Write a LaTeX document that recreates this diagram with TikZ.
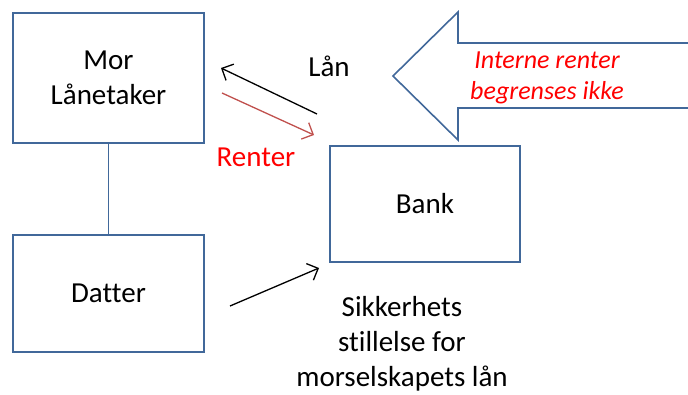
\documentclass[tikz,border=0pt]{standalone}
\usepackage{fontspec}
\setmainfont{Carlito}[Ligatures=NoCommon]
\usetikzlibrary{arrows.meta,positioning,calc}
\definecolor{boxblue}{HTML}{41689A}
\definecolor{renterred}{HTML}{C0504D}
\definecolor{textred}{HTML}{FF0000}

\begin{document}
\begin{tikzpicture}[x=1pt,y=-1pt,>={Straight Barb[length=9pt,width=18pt]},
	txt/.style={font=\fontsize{29}{35}\selectfont, align=center, inner sep=0pt},
	box/.style={draw=boxblue, line width=1.6pt, txt}]
				\useasboundingbox (0,0) rectangle (688,394);
				\node[box, minimum width=191pt, minimum height=130pt] (mor) at (108.5,78) {Mor\\Lånetaker};
				\node[box, minimum width=191pt, minimum height=117pt] (datter) at (108.5,293.5) {Datter};
				\node[box, minimum width=190pt, minimum height=116pt] (bank) at (425,204) {Bank};
				\draw[boxblue, line width=1.6pt] (mor.south) -- (datter.north);
				% big arrow from the right
				\draw[boxblue, line width=1.6pt] (692,43) -- (458,43) -- (458,12) -- (393,76) -- (458,140) -- (458,108) -- (692,108);
				\node[txt, text=textred, font=\fontsize{26}{31}\selectfont\itshape] (interne) at (547,78) {Interne renter\\begrenses ikke};
				\coordinate (lanfra) at (317,114);\coordinate (lantil) at (221,68);
				\coordinate (renfra) at (222,93);\coordinate (rentil) at (314,135);
				\coordinate (sikfra) at (230,306);\coordinate (siktil) at (319,268);
				\draw[->, line width=1.3pt] (lanfra) -- (lantil);
				\draw[->, line width=1.3pt, renterred] (renfra) -- (rentil);
				\draw[->, line width=1.3pt] (sikfra) -- (siktil);
				\node[txt] (lan) at (329,66) {Lån};
				\node[txt, text=textred] (renter) at (256,157) {Renter};
				\node[txt] (sikkerhet) at (402,344) {Sikkerhets\\stillelse for\\morselskapets lån};
			\end{tikzpicture}
\end{document}
